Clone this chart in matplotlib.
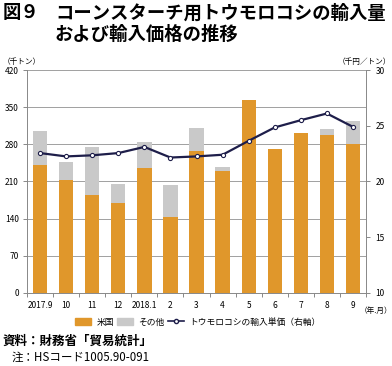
import matplotlib
matplotlib.use("Agg")
import matplotlib.pyplot as plt
import numpy as np
from matplotlib.lines import Line2D
from matplotlib.patches import Patch

plt.rcParams['font.family'] = ['Noto Sans CJK JP', 'DejaVu Sans']

categories = ["2017.9", "10", "11", "12", "2018.1", "2", "3", "4", "5", "6", "7", "8", "9"]
us = [241, 212, 184, 170, 236, 143, 268, 230, 363, 272, 302, 297, 280]
total = [305, 246, 275, 206, 284, 203, 311, 238, 363, 272, 302, 308, 324]
other = [t - u for t, u in zip(total, us)]
price = [22.55, 22.25, 22.35, 22.55, 23.1, 22.15, 22.25, 22.4, 23.65, 24.85, 25.5, 26.1, 24.9]

orange = "#E0972B"
gray = "#C9C9C9"
navy = "#1E1E4A"

fig = plt.figure(figsize=(3.92, 3.66), dpi=100)
ax = fig.add_axes([0.069, 0.1995, 0.8647, 0.6092])
x = np.arange(len(categories))
ax.bar(x, us, width=0.55, color=orange, zorder=2)
ax.bar(x, other, bottom=us, width=0.55, color=gray, zorder=2)
ax.set_ylim(0, 420)
ax.set_xlim(-0.5, len(categories) - 0.5)
ax.set_yticks(np.arange(0, 421, 70))
ax.yaxis.grid(True, color="#A0A0A0", linewidth=0.7, zorder=0)
ax.set_axisbelow(True)
ax.set_xticks(x)
ax.set_xticklabels(categories, fontsize=6)
ax.tick_params(axis='x', length=0, pad=6)
ax.set_xticks(np.arange(-0.5, len(categories), 1), minor=True)
ax.tick_params(axis='x', which='minor', length=3, color="#888888", width=0.7)
ax.tick_params(axis='y', labelsize=6, length=3, color="#888888", width=0.7, pad=3)
for s in ['top', 'right']:
    ax.spines[s].set_visible(False)
ax.spines['left'].set_color("#888888")
ax.spines['bottom'].set_color("#888888")
ax.spines['left'].set_linewidth(0.7)
ax.spines['bottom'].set_linewidth(0.7)

ax2 = ax.twinx()
ax2.plot(x, price, color=navy, linewidth=1.6, marker='o', markersize=3,
         markerfacecolor='white', markeredgecolor=navy, markeredgewidth=0.8, zorder=5)
ax2.set_ylim(10, 30)
ax2.set_yticks(np.arange(10, 31, 5))
ax2.tick_params(axis='y', labelsize=6, length=3, color="#888888", width=0.7, pad=4)
for s in ['top', 'left', 'bottom']:
    ax2.spines[s].set_visible(False)
ax2.spines['right'].set_color("#888888")
ax2.spines['right'].set_linewidth(0.7)

fig.text(3/392, 1 - 13/366, "図９", fontsize=13.2, fontweight='bold', va='center', ha='left')
fig.text(55/392, 1 - 13/366, "コーンスターチ用トウモロコシの輸入量", fontsize=13.2, fontweight='bold', va='center', ha='left')
fig.text(55/392, 1 - 34/366, "および輸入価格の推移", fontsize=13.2, fontweight='bold', va='center', ha='left')

fig.text(3/392, 1 - 62/366, "（千トン）", fontsize=5.5, va='center', ha='left')
fig.text(391/392, 1 - 62/366, "（千円／トン）", fontsize=5.5, va='center', ha='right')
fig.text(392/392, 1 - 311/366, "（年.月）", fontsize=5.5, va='center', ha='right')

handles = [Patch(color=orange, label="米国"), Patch(color=gray, label="その他"),
           Line2D([0], [0], color=navy, linewidth=1.2, marker='o', markersize=3,
                  markerfacecolor='white', markeredgecolor=navy, label="トウモロコシの輸入単価（右軸）")]
fig.legend(handles=handles, loc='center', bbox_to_anchor=(198/392, 1 - 322/366), ncol=3,
           frameon=False, fontsize=6.3, handlelength=1.8, handleheight=0.9, columnspacing=0.4,
           handletextpad=0.6)

fig.text(3/392, 1 - 341/366, "資料：財務省「貿易統計」", fontsize=9, fontweight='bold', va='center', ha='left')
fig.text(12/392, 1 - 357/366, "注：HSコード1005.90-091", fontsize=8.3, va='center', ha='left')

fig.savefig("out.png", dpi=100)
